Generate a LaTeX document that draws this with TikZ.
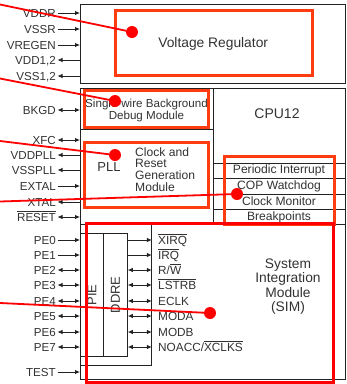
\documentclass[tikz,border=0pt]{standalone}
\usepackage{fontspec}
\setmainfont{Liberation Sans}
\usetikzlibrary{arrows.meta}
\definecolor{hlorange}{RGB}{255,60,15}
\definecolor{lnblack}{RGB}{35,35,35}
\definecolor{txt}{RGB}{50,50,50}
\newcommand{\ovl}[1]{$\overline{\mbox{#1}}$}
\begin{document}
\begin{tikzpicture}[x=1pt,y=-1pt,
  pin/.style={anchor=east,inner sep=0pt,text height=8pt,text depth=0pt,text=txt,font=\fontsize{11.6}{12}\selectfont},
  sig/.style={anchor=west,inner sep=0pt,text height=8pt,text depth=0pt,text=txt,font=\fontsize{11.8}{12}\selectfont},
  lbl/.style={text=txt,inner sep=0pt,align=center},
  blk/.style={draw=lnblack,line width=1.4pt},
  thinln/.style={draw=lnblack,line width=0.8pt},
  ain/.style={draw=lnblack,-{Latex[length=5pt,width=4.5pt]},line width=0.8pt},
  aout/.style={draw=lnblack,{Latex[length=5pt,width=4.5pt]}-,line width=0.8pt},
  abi/.style={draw=lnblack,{Latex[length=5pt,width=4.5pt]}-{Latex[length=5pt,width=4.5pt]},line width=0.8pt},
  hl/.style={draw=hlorange,line width=3pt},
  hlr/.style={draw=red,line width=3pt},
  conn/.style={draw=red,line width=1.8pt},
  dot/.style={circle,fill=red,inner sep=0pt,minimum size=12pt},
]
\useasboundingbox (0,0) rectangle (347,384);

% ---- black block diagram ----
\node[blk, anchor=north west, minimum width=265pt, minimum height=79pt, inner sep=0pt,
      text=txt, font=\fontsize{13.8}{14}\selectfont] (vreg) at (80,4) {Voltage Regulator};
\node[blk, anchor=north west, minimum width=265pt, minimum height=291pt, inner sep=0pt] (main) at (80,88) {};

\draw[thinln] (80,129) -- (213,129);
\draw[thinln] (213,88) -- (213,224);
\foreach \yy in {163,178,194,209} \draw[thinln] (213,\yy) -- (345,\yy);
\draw[thinln] (80,224) -- (345,224);

\node[lbl, font=\fontsize{11.6}{12}\selectfont] (bdm) at (146.5,110) {Single-wire Background\\Debug Module};
\node[lbl, font=\fontsize{14}{14}\selectfont] (cpu) at (277,114) {CPU12};
\node[lbl, font=\fontsize{13}{13}\selectfont] (pll) at (109,167) {PLL};
\node[lbl, align=left, anchor=west, font=\fontsize{12.1}{11.7}\selectfont] (crg) at (135,169.5) {Clock and\\Reset\\Generation\\Module};
\node[lbl, font=\fontsize{12.1}{12}\selectfont] (pit) at (279,170.5) {Periodic Interrupt};
\node[lbl, font=\fontsize{12.1}{12}\selectfont] (cop) at (279,186) {COP Watchdog};
\node[lbl, font=\fontsize{12.1}{12}\selectfont] (cm) at (279,201.5) {Clock Monitor};
\node[lbl, font=\fontsize{12.1}{12}\selectfont] (bp) at (279,217) {Breakpoints};
\node[lbl, font=\fontsize{13.8}{14.3}\selectfont] (sim) at (288,286.5) {System\\Integration\\Module\\(SIM)};

\node[thinln, draw, anchor=north west, minimum width=71pt, minimum height=141pt, inner sep=0pt] (inner) at (80,224) {};
\node[thinln, draw, anchor=north west, minimum width=23pt, minimum height=123pt, inner sep=0pt] (pie) at (80,233) {};
\node[thinln, draw, anchor=north west, minimum width=24pt, minimum height=123pt, inner sep=0pt] (ddre) at (103,233) {};
\node[lbl, rotate=90, font=\fontsize{13}{13}\selectfont] (pietxt) at (pie.center) {PIE};
\node[lbl, rotate=90, font=\fontsize{13}{13}\selectfont] (ddretxt) at (ddre.center) {DDRE};

% ---- pins ----
\foreach \n/\t/\y/\s in {vddr/VDDR/13/ain, vssr/VSSR/29/ain, vregen/VREGEN/45/ain, vdd/{VDD1,2}/60/aout, vss/{VSS1,2}/76/aout}
  { \node[pin] (p\n) at (56,\y) {\t};
    \draw[\s] ([xshift=1.5pt]p\n.east) -- (p\n.east -| vreg.west); }
\foreach \n/\t/\y/\s in {bkgd/BKGD/110/abi, xfc/XFC/140/abi, vddpll/VDDPLL/155/aout, vsspll/VSSPLL/170/aout,
    extal/EXTAL/186/ain, xtal/XTAL/202/aout, reset/\ovl{RESET}/217/abi,
    pe0/PE0/240/ain, pe1/PE1/255/ain, pe2/PE2/270/abi, pe3/PE3/285/abi, pe4/PE4/301/abi,
    pe5/PE5/316/abi, pe6/PE6/332/abi, pe7/PE7/347/abi, test/TEST/372/ain}
  { \node[pin] (p\n) at (56,\y) {\t};
    \draw[\s] ([xshift=1.5pt]p\n.east) -- (p\n.east -| main.west); }

% ---- internal signals ----
\node[sig] (sxirq) at (158,240) {\ovl{XIRQ}};
\node[sig] (sirq) at (158,255) {\ovl{IRQ}};
\node[sig] (srw) at (158,270) {R/\ovl{W}};
\node[sig] (slstrb) at (158,285) {\ovl{LSTRB}};
\node[sig] (seclk) at (158,301) {ECLK};
\node[sig] (smoda) at (158,316) {MODA};
\node[sig] (smodb) at (158,332) {MODB};
\node[sig] (snoacc) at (158,347) {NOACC/\ovl{XCLKS}};
\draw[ain] (ddre.east |- sxirq.west) -- (inner.east |- sxirq.west);
\draw[ain] (ddre.east |- sirq.west) -- (inner.east |- sirq.west);
\foreach \s in {srw,slstrb,seclk,smoda,smodb,snoacc}
  \draw[abi] (ddre.east |- \s.west) -- (inner.east |- \s.west);

% ---- highlight boxes ----
\draw[hl] (115,10) rectangle (312,75);
\draw[hl] (84,90) rectangle (208,127);
\draw[hl] (84,142) rectangle (208,207);
\draw[hl] (224,156) rectangle (334,224);
\draw[hlr] (86,223) rectangle (333,382);

% ---- pointer lines ----
\coordinate (e1) at (0,4.5);
\coordinate (e2) at (0,78.5);
\coordinate (e3) at (0,141);
\coordinate (e4) at (0,201.5);
\coordinate (e5) at (0,303);
\node[dot] (d1) at (132,32) {};
\node[dot] (d2) at (115,101) {};
\node[dot] (d3) at (115,155) {};
\node[dot] (d4) at (237,194) {};
\node[dot] (d5) at (210,313) {};
\draw[conn] (e1) -- (d1);
\draw[conn] (e2) -- (d2);
\draw[conn] (e3) -- (d3);
\draw[conn] (e4) -- (d4);
\draw[conn] (e5) -- (d5);
\end{tikzpicture}
\end{document}
